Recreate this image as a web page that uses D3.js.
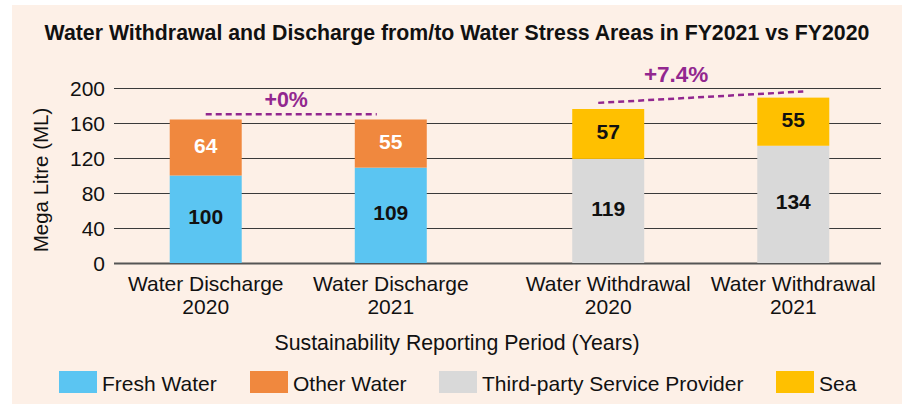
<!DOCTYPE html>
<html>
<head>
<meta charset="utf-8">
<script src="https://cdn.jsdelivr.net/npm/d3@7"></script>
<style>
  body { margin: 0; background: #fff; }
  svg text { font-family: "Liberation Sans", Arial, Helvetica, sans-serif; }
</style>
</head>
<body>
<div id="chart"></div>
<script>
var width = 908;
var height = 404;

// data
var groups = ["Water Discharge", "Water Withdrawal"];
var years = ["2020", "2021"];
var series = ["Fresh Water", "Other Water", "Third-party Service Provider", "Sea"];
var freshWater = [100, 109, 0, 0];
var otherWater = [64, 55, 0, 0];
var thirdParty = [0, 0, 119, 134];
var sea = [0, 0, 57, 55];
var yTicks = [0, 40, 80, 120, 160, 200];
var changeLabels = ["+0%", "+7.4%"];
var changeFrom = [170, 183];   // level of the dashed line at the 2020 bar
var changeTo = [170, 196];     // level at the 2021 bar
var changeLabelAt = [178, 207];

var colors = ["#5bc5f2", "#f0883e", "#d9d9d9", "#ffc000"];
var textColors = ["#111", "#fff", "#111", "#111"];
var purple = "#92278f";

var rows = [];
groups.forEach(function(g, gi) {
  years.forEach(function(yr, yi) {
    var i = gi * 2 + yi;
    rows.push({
      group: g, year: yr,
      "Fresh Water": freshWater[i],
      "Other Water": otherWater[i],
      "Third-party Service Provider": thirdParty[i],
      "Sea": sea[i]
    });
  });
});

var svg = d3.select("#chart").append("svg")
  .attr("width", width)
  .attr("height", height);

// panel background
svg.append("rect")
  .attr("x", 12).attr("y", 5)
  .attr("width", 890).attr("height", height - 5)
  .attr("fill", "#fdf0e7");

var plotLeft = 114, plotRight = 881;

var y = d3.scaleLinear().domain([0, 200]).range([263, 88]);

var x0 = d3.scaleBand().domain(groups).range([97, 902]);
var x1 = d3.scaleBand().domain(years)
  .range([0, x0.bandwidth()])
  .paddingInner(0.611)
  .paddingOuter(0.393);

function center(d) { return x0(d.group) + x1(d.year) + x1.bandwidth() / 2; }

// title
svg.append("text")
  .attr("x", 457).attr("y", 40)
  .attr("text-anchor", "middle")
  .style("font-size", "21.3px")
  .style("font-weight", "bold")
  .attr("fill", "#111")
  .text("Water Withdrawal and Discharge from/to Water Stress Areas in FY2021 vs FY2020");

// grid
var grid = svg.append("g");
grid.selectAll("line")
  .data(yTicks)
  .enter().append("line")
  .attr("x1", plotLeft).attr("x2", plotRight)
  .attr("y1", function(d) { return Math.round(y(d)) + 0.5; })
  .attr("y2", function(d) { return Math.round(y(d)) + 0.5; })
  .attr("stroke", function(d) { return d === 0 ? "#555" : "#3a3a3a"; })
  .attr("stroke-width", function(d) { return d === 0 ? 2 : 1; });

// y axis
var yAxis = svg.append("g")
  .attr("transform", "translate(" + (plotLeft - 9) + ",0)")
  .call(d3.axisLeft(y).tickValues(yTicks).tickSize(0).tickPadding(0));
yAxis.select(".domain").remove();
yAxis.selectAll("text")
  .style("font-size", "21px")
  .attr("fill", "#111")
  .attr("dy", "0.36em");

svg.append("text")
  .attr("transform", "translate(48,180) rotate(-90)")
  .attr("text-anchor", "middle")
  .style("font-size", "20.5px")
  .attr("fill", "#111")
  .text("Mega Litre (ML)");

// stacked bars
var stack = d3.stack().keys(series);
var layers = stack(rows);

var layerG = svg.selectAll("g.layer")
  .data(layers)
  .enter().append("g")
  .attr("class", "layer")
  .attr("fill", function(d, i) { return colors[i]; });

layerG.selectAll("rect")
  .data(function(d) { return d.filter(function(p) { return p[1] > p[0]; }); })
  .enter().append("rect")
  .attr("x", function(p) { return x0(p.data.group) + x1(p.data.year); })
  .attr("width", x1.bandwidth())
  .attr("y", function(p) { return y(p[1]); })
  .attr("height", function(p) { return y(p[0]) - y(p[1]); });

layerG.selectAll("text")
  .data(function(d) { return d.filter(function(p) { return p[1] > p[0]; }); })
  .enter().append("text")
  .attr("x", function(p) { return center(p.data); })
  .attr("y", function(p) { return (y(p[0]) + y(p[1])) / 2 + 5; })
  .attr("text-anchor", "middle")
  .style("font-size", "21px")
  .style("font-weight", "bold")
  .attr("fill", function() { return textColors[series.indexOf(d3.select(this.parentNode).datum().key)]; })
  .text(function(p) { return p[1] - p[0]; });

// category labels
var cats = svg.append("g");
rows.forEach(function(r) {
  var t = cats.append("text")
    .attr("text-anchor", "middle")
    .style("font-size", "21px")
    .attr("fill", "#111");
  t.append("tspan").attr("x", center(r)).attr("y", 291).text(r.group);
  t.append("tspan").attr("x", center(r)).attr("y", 314).text(r.year);
});

svg.append("text")
  .attr("x", 457).attr("y", 350)
  .attr("text-anchor", "middle")
  .style("font-size", "21.3px")
  .attr("fill", "#111")
  .text("Sustainability Reporting Period (Years)");

// change annotations
var startOffset = [0, -10], endOffset = [-14, 10], labelT = [0.47, 0.38];
groups.forEach(function(g, gi) {
  var xa = center(rows[gi * 2]) + startOffset[gi];
  var xb = center(rows[gi * 2 + 1]) + endOffset[gi];
  svg.append("line")
    .attr("x1", xa).attr("x2", xb)
    .attr("y1", y(changeFrom[gi])).attr("y2", y(changeTo[gi]))
    .attr("stroke", purple)
    .attr("stroke-width", 2.5)
    .attr("stroke-dasharray", "6,4");
  svg.append("text")
    .attr("x", xa + (xb - xa) * labelT[gi])
    .attr("y", y(changeLabelAt[gi]))
    .attr("text-anchor", "middle")
    .style("font-size", gi === 0 ? "21.4px" : "22.5px")
    .style("font-weight", "bold")
    .attr("fill", purple)
    .text(changeLabels[gi]);
});

// legend
var legendX = [59, 250, 439, 776];
var legend = svg.append("g");
series.forEach(function(s, i) {
  legend.append("rect")
    .attr("x", legendX[i]).attr("y", 371)
    .attr("width", 38).attr("height", 22)
    .attr("fill", colors[i]);
  legend.append("text")
    .attr("x", legendX[i] + 43).attr("y", 391)
    .style("font-size", "21px")
    .attr("fill", "#111")
    .text(s);
});
</script>
</body>
</html>
